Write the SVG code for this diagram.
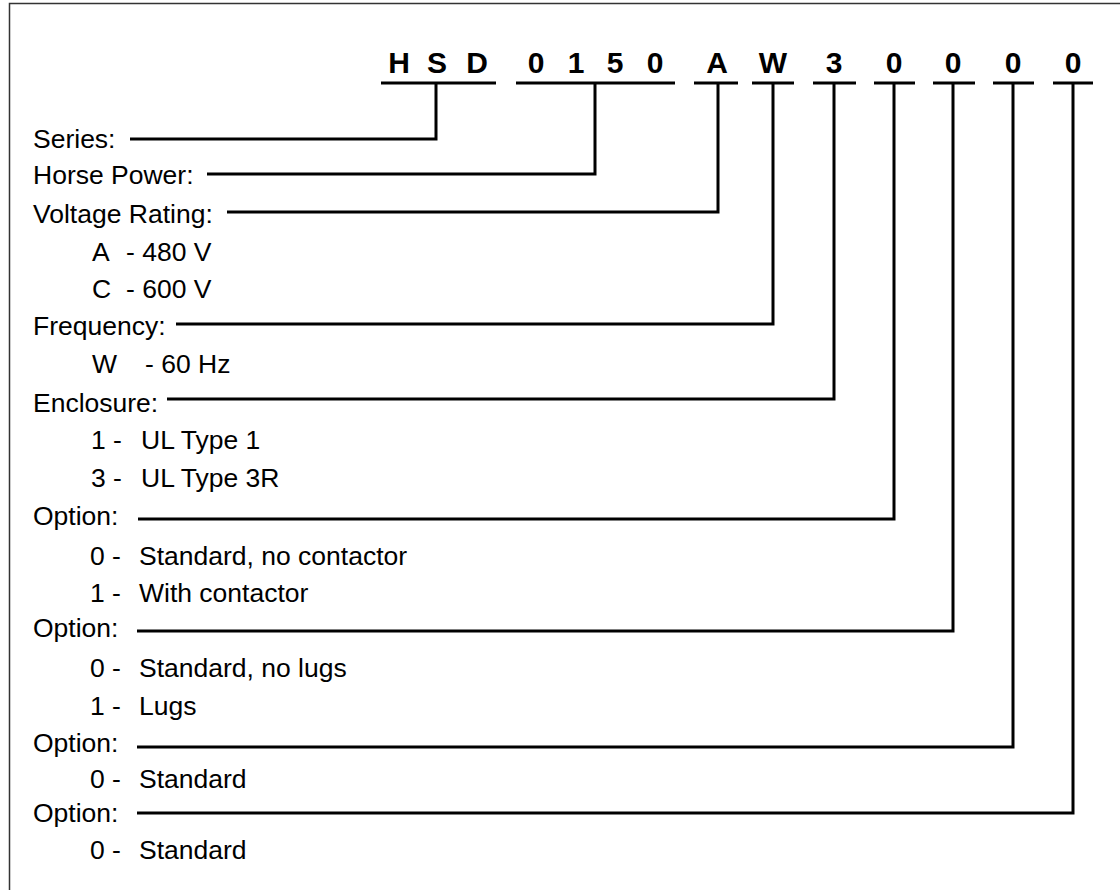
<svg xmlns="http://www.w3.org/2000/svg" width="1120" height="890" viewBox="0 0 1120 890">
<style>
.lbl{font-family:"Liberation Sans",Arial,sans-serif;font-size:26.5px;fill:#000}
.code{font-family:"Liberation Sans",Arial,sans-serif;font-size:30px;font-weight:bold;fill:#000;text-anchor:middle}
.ul{stroke:#000;stroke-width:3;fill:none}
.con{stroke:#000;stroke-width:3;fill:none;stroke-linejoin:miter}
</style>
<rect x="0" y="0" width="1120" height="890" fill="#fff"/>
<path d="M9.5,890 V3.5 H1120" fill="none" stroke="#333" stroke-width="1.5"/>
<g id="code">
<text class="code" x="399" y="73">H</text>
<text class="code" x="437" y="73">S</text>
<text class="code" x="477" y="73">D</text>
<text class="code" x="536" y="73">0</text>
<text class="code" x="576" y="73">1</text>
<text class="code" x="615" y="73">5</text>
<text class="code" x="655" y="73">0</text>
<text class="code" x="717" y="73">A</text>
<text class="code" x="773" y="73">W</text>
<text class="code" x="834" y="73">3</text>
<text class="code" x="894" y="73">0</text>
<text class="code" x="953" y="73">0</text>
<text class="code" x="1013" y="73">0</text>
<text class="code" x="1073" y="73">0</text>
</g>
<g id="underlines">
<line class="ul" x1="381" y1="83" x2="496" y2="83"/>
<line class="ul" x1="516" y1="83" x2="675" y2="83"/>
<line class="ul" x1="694" y1="83" x2="738" y2="83"/>
<line class="ul" x1="752" y1="83" x2="794" y2="83"/>
<line class="ul" x1="813" y1="83" x2="856" y2="83"/>
<line class="ul" x1="874" y1="83" x2="915" y2="83"/>
<line class="ul" x1="933" y1="83" x2="975" y2="83"/>
<line class="ul" x1="993" y1="83" x2="1034" y2="83"/>
<line class="ul" x1="1053" y1="83" x2="1093" y2="83"/>
</g>
<g id="connectors">
<path class="con" d="M130,139 H436 V83"/>
<path class="con" d="M207,174 H595 V83"/>
<path class="con" d="M227,212 H718 V83"/>
<path class="con" d="M176,324 H773 V83"/>
<path class="con" d="M167,399 H834 V83"/>
<path class="con" d="M138,519 H894 V83"/>
<path class="con" d="M137,631 H953 V83"/>
<path class="con" d="M137,747 H1013 V83"/>
<path class="con" d="M137,813 H1073 V83"/>
</g>
<g id="series"><text class="lbl" x="33" y="148">Series:</text></g>
<g id="horsepower"><text class="lbl" x="33" y="184">Horse Power:</text></g>
<g id="voltage">
<text class="lbl" x="33" y="223">Voltage Rating:</text>
<text class="lbl" y="261"><tspan x="92">A</tspan><tspan x="126">- 480 V</tspan></text>
<text class="lbl" y="298"><tspan x="92">C</tspan><tspan x="126">- 600 V</tspan></text>
</g>
<g id="frequency">
<text class="lbl" x="33" y="335">Frequency:</text>
<text class="lbl" y="373"><tspan x="92">W</tspan><tspan x="145">- 60 Hz</tspan></text>
</g>
<g id="enclosure">
<text class="lbl" x="33" y="412">Enclosure:</text>
<text class="lbl" y="449"><tspan x="91">1 -</tspan><tspan x="141">UL Type 1</tspan></text>
<text class="lbl" y="487"><tspan x="91">3 -</tspan><tspan x="141">UL Type 3R</tspan></text>
</g>
<g id="option1">
<text class="lbl" x="33" y="525">Option:</text>
<text class="lbl" y="565"><tspan x="90">0 -</tspan><tspan x="139">Standard, no contactor</tspan></text>
<text class="lbl" y="602"><tspan x="90">1 -</tspan><tspan x="139">With contactor</tspan></text>
</g>
<g id="option2">
<text class="lbl" x="33" y="637">Option:</text>
<text class="lbl" y="677"><tspan x="90">0 -</tspan><tspan x="139">Standard, no lugs</tspan></text>
<text class="lbl" y="715"><tspan x="90">1 -</tspan><tspan x="139">Lugs</tspan></text>
</g>
<g id="option3">
<text class="lbl" x="33" y="752">Option:</text>
<text class="lbl" y="788"><tspan x="90">0 -</tspan><tspan x="139">Standard</tspan></text>
</g>
<g id="option4">
<text class="lbl" x="33" y="822">Option:</text>
<text class="lbl" y="859"><tspan x="90">0 -</tspan><tspan x="139">Standard</tspan></text>
</g>
</svg>
